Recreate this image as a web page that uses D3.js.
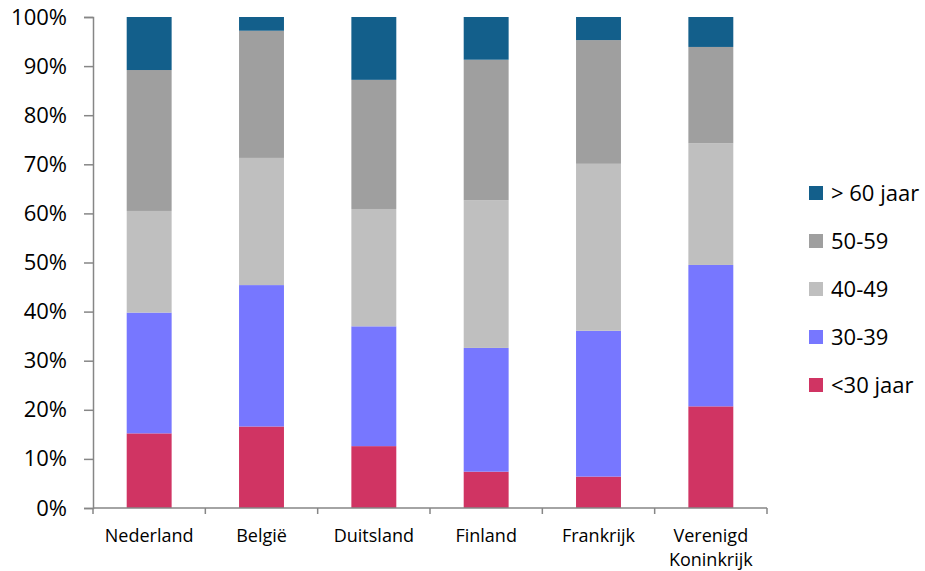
<!DOCTYPE html>
<html>
<head>
<meta charset="utf-8">
<script src="https://cdn.jsdelivr.net/npm/d3@7"></script>
<style>
  body { margin: 0; background: #fff; }
  text { font-family: "Open Sans", "Noto Sans", sans-serif; fill: #000; }
</style>
</head>
<body>
<div id="chart"></div>
<script>
var width = 925, height = 571;
var margin = {top: 17, right: 158, bottom: 63, left: 93};

// age groups, bottom to top
var groups = ['<30 jaar', '30-39', '40-49', '50-59', '> 60 jaar'];
var colors = ['#d03463', '#7777ff', '#bfbfbf', '#9f9f9f', '#135f8b'];

var countries = ['Nederland', 'België', 'Duitsland', 'Finland', 'Frankrijk', 'Verenigd Koninkrijk'];

// share per age group (%), same order as countries
var under30 = [15.2, 16.6, 12.6, 7.4, 6.4, 20.7];
var age30_39 = [24.6, 28.8, 24.4, 25.2, 29.7, 28.8];
var age40_49 = [20.7, 25.9, 23.9, 30.1, 34.0, 24.8];
var age50_59 = [28.7, 25.9, 26.3, 28.6, 25.2, 19.6];
var over60 = [10.8, 2.8, 12.8, 8.7, 4.7, 6.1];

var yTicks = [0, 0.1, 0.2, 0.3, 0.4, 0.5, 0.6, 0.7, 0.8, 0.9, 1];

var series = [under30, age30_39, age40_49, age50_59, over60];

var rows = countries.map(function(c, i) {
  var r = {country: c};
  groups.forEach(function(g, j) { r[g] = series[j][i]; });
  return r;
});

var stacked = d3.stack().keys(groups).offset(d3.stackOffsetExpand)(rows);

var svg = d3.select('#chart').append('svg')
  .attr('width', width)
  .attr('height', height);

var x = d3.scaleBand()
  .domain(countries)
  .range([margin.left, width - margin.right])
  .paddingInner(0.6)
  .paddingOuter(0.3);

var y = d3.scaleLinear()
  .domain([0, 1])
  .range([height - margin.bottom, margin.top]);

// bars
svg.selectAll('.layer')
  .data(stacked)
  .enter().append('g')
  .attr('class', 'layer')
  .attr('fill', function(d, i) { return colors[i]; })
  .selectAll('rect')
  .data(function(d) { return d; })
  .enter().append('rect')
  .attr('x', function(d) { return x(d.data.country); })
  .attr('width', x.bandwidth())
  .attr('y', function(d) { return y(d[1]); })
  .attr('height', function(d) { return y(d[0]) - y(d[1]); });

// y axis
var yAxis = svg.append('g')
  .attr('transform', 'translate(' + margin.left + ',0)')
  .call(d3.axisLeft(y).tickValues(yTicks).tickFormat(d3.format('.0%')).tickSize(9).tickPadding(17));

yAxis.selectAll('text').style('font-size', '22px');

// x axis: ticks sit on category boundaries
var bounds = d3.range(countries.length + 1).map(function(i) {
  return margin.left + i * (width - margin.left - margin.right) / countries.length;
});

var xAxis = svg.append('g');
xAxis.append('line')
  .attr('x1', margin.left).attr('x2', width - margin.right)
  .attr('y1', y(0)).attr('y2', y(0));
xAxis.selectAll('.xtick')
  .data(bounds)
  .enter().append('line')
  .attr('class', 'xtick')
  .attr('x1', function(d) { return d; }).attr('x2', function(d) { return d; })
  .attr('y1', y(0)).attr('y2', y(0) + 6);

svg.selectAll('.domain, .tick line').attr('stroke', '#868686').attr('stroke-width', 1.5);
xAxis.selectAll('line').attr('stroke', '#868686').attr('stroke-width', 1.5);

// category labels, wrapped
svg.selectAll('.xlabel')
  .data(countries)
  .enter().append('text')
  .attr('class', 'xlabel')
  .attr('text-anchor', 'middle')
  .style('font-size', '18px')
  .each(function(d) {
    var words = d.split(' ');
    var t = d3.select(this);
    words.forEach(function(w, i) {
      t.append('tspan')
        .attr('x', x(d) + x.bandwidth() / 2)
        .attr('y', y(0) + 34 + i * 24)
        .text(w);
    });
  });

// legend, top to bottom reverse of stack
var legendItems = groups.slice().reverse();
var legend = svg.selectAll('.legend')
  .data(legendItems)
  .enter().append('g')
  .attr('class', 'legend')
  .attr('transform', function(d, i) { return 'translate(809,' + (193 + i * 48) + ')'; });

legend.append('rect')
  .attr('x', 0).attr('y', -7)
  .attr('width', 14).attr('height', 14)
  .attr('fill', function(d) { return colors[groups.indexOf(d)]; });

legend.append('text')
  .attr('x', 22)
  .attr('dy', '0.36em')
  .style('font-size', '22px')
  .text(function(d) { return d; });
</script>
</body>
</html>
